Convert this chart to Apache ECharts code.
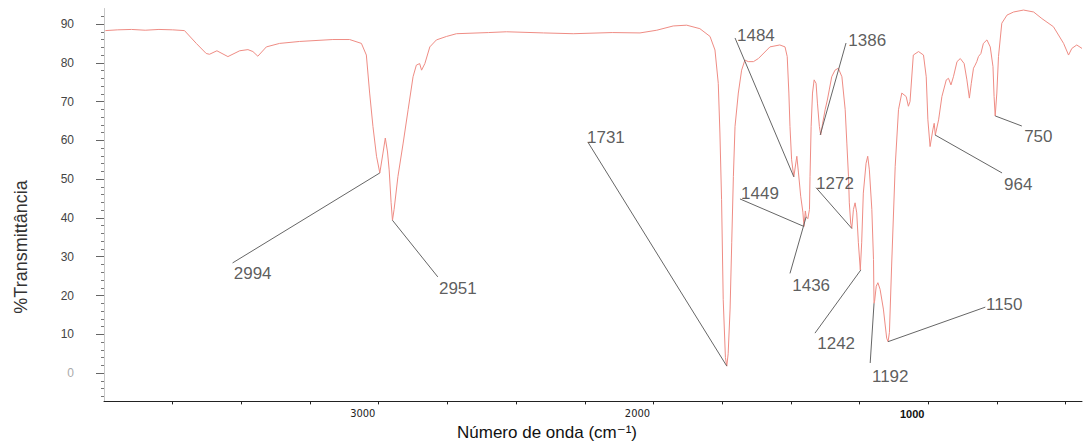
<!DOCTYPE html>
<html>
<head>
<meta charset="utf-8">
<script src="https://cdn.jsdelivr.net/npm/echarts@6/dist/echarts.min.js"></script>
<style>
html, body { margin: 0; padding: 0; background: #fff; }
#main { width: 1085px; height: 442px; }
</style>
</head>
<body>
<div id="main"></div>
<script>
// espectro IR (numero de onda em cm-1, % transmitancia)
var wavenumber = [3995, 3950, 3900, 3850, 3800, 3750, 3707, 3664, 3628, 3616, 3589, 3549, 3506, 3476, 3458, 3440, 3409, 3361, 3288, 3167,
    3106, 3063, 3045, 3033, 3021, 3008, 2996, 2985, 2976, 2968, 2962, 2955, 2950, 2944, 2930, 2911, 2893, 2875, 2863, 2851,
    2844, 2832, 2814, 2790, 2753, 2717, 2600, 2535, 2400, 2292, 2150, 2049, 1988, 1928, 1879, 1831, 1794, 1776, 1764, 1758,
    1752, 1746, 1738, 1733, 1728, 1721, 1715, 1709, 1703, 1691, 1679, 1667, 1655, 1636, 1618, 1576, 1540, 1521, 1513, 1507,
    1503, 1497, 1489, 1478, 1472, 1464, 1456, 1452, 1447, 1444, 1438, 1432, 1430, 1426, 1421, 1415, 1408, 1403, 1396, 1391,
    1384, 1375, 1367, 1360, 1351, 1339, 1327, 1314, 1302, 1296, 1290, 1287, 1282, 1278, 1272, 1266, 1260, 1254, 1247, 1242,
    1236, 1226, 1220, 1214, 1205, 1199, 1197, 1195, 1189, 1183, 1175, 1163, 1151, 1146, 1141, 1133, 1120, 1108, 1096, 1080,
    1072, 1066, 1054, 1035, 1017, 1007, 1001, 993, 983, 978, 974, 962, 950, 934, 926, 917, 908, 895, 883, 869,
    859, 850, 843, 835, 829, 823, 817, 808, 799, 786, 774, 764, 760, 756, 750, 744, 732, 713, 689, 653,
    616, 586, 544, 507, 489, 477, 459, 440];
var transmittance = [88.3, 88.5, 88.6, 88.4, 88.6, 88.5, 88.3, 85.0, 82.4, 82.2, 83.1, 81.6, 83.1, 83.4, 82.9, 81.7, 84.1, 85.0, 85.5, 86.0,
    86.0, 85.0, 82.0, 72.2, 63.6, 55.9, 51.6, 56.5, 60.6, 57.0, 52.4, 44.0, 39.4, 42.2, 50.7, 59.3, 67.9, 76.4, 79.4, 79.8,
    78.1, 79.8, 84.1, 85.9, 86.8, 87.5, 87.8, 88.0, 87.7, 87.5, 87.8, 87.7, 88.4, 89.5, 89.7, 88.8, 86.8, 83.3, 74.7, 61.9,
    44.7, 19.0, 4.0, 1.8, 5.0, 16.5, 33.6, 50.7, 63.6, 72.2, 78.1, 80.7, 80.3, 80.3, 81.1, 84.1, 84.6, 84.1, 81.6, 72.2,
    63.6, 55.0, 50.6, 55.9, 51.6, 45.6, 41.5, 37.8, 41.8, 40.3, 39.8, 42.2, 50.7, 63.6, 72.2, 75.6, 74.7, 69.6, 63.6, 61.4,
    64.4, 67.9, 70.4, 73.0, 76.4, 78.1, 78.6, 76.4, 67.9, 59.3, 50.7, 43.9, 38.7, 37.3, 42.2, 43.9, 41.3, 33.6, 26.6, 33.6,
    46.4, 54.1, 55.9, 52.4, 42.2, 29.3, 18.0, 18.5, 22.4, 23.3, 21.6, 16.5, 9.0, 8.1, 10.5, 27.6, 53.3, 67.9, 72.2, 71.3,
    68.8, 70.0, 82.0, 82.9, 82.0, 76.4, 65.3, 58.4, 62.7, 64.4, 61.4, 65.3, 71.3, 75.6, 76.0, 74.3, 76.4, 80.3, 81.1, 79.8,
    75.6, 70.9, 74.7, 78.6, 79.4, 80.3, 81.6, 82.4, 85.0, 85.9, 84.1, 79.0, 71.3, 66.3, 72.2, 81.6, 90.2, 92.3, 93.1, 93.6,
    93.1, 91.4, 89.3, 85.0, 82.0, 83.7, 84.6, 83.7];

// bandas marcadas
var peakNames = ['2994', '2951', '1731', '1484', '1386', '1449', '1436', '1272', '1242', '1192', '1150', '964', '750'];
var pointerFrom = [[2996, 51.6], [2950, 39.4], [1733, 1.8], [1489, 50.6], [1393, 61.4], [1452, 37.8], [1444, 40.3],
    [1278, 37.3], [1245, 26.6], [1197, 18.0], [1146, 8.1], [975, 61.4], [756, 66.3]];
var pointerTo = [[3532, 28.4], [2785, 24.8], [2239, 59.6], [1703, 86.4], [1299, 85.1], [1685, 44.9], [1503, 25.7],
    [1408, 47.8], [1412, 10.3], [1211, 2.6], [792, 17.0], [731, 51.6], [659, 63.7]];
var labelAt = [[3459, 25.8], [2712, 21.7], [2173, 60.8], [1627, 87.1], [1222, 85.8], [1612, 46.4], [1426, 22.7],
    [1339, 49.0], [1335, 7.5], [1138, -1.0], [723, 17.8], [672, 48.5], [599, 61.1]];

var xLabelValues = [3000, 2000, 1000];
var xTickValues = [3750, 3500, 3250, 3000, 2750, 2500, 2250, 2000, 1750, 1500, 1250, 1000, 750, 500];
var yLabelValues = [0, 10, 20, 30, 40, 50, 60, 70, 80, 90];
var yMinorValues = [-6, -4, -2, 2, 4, 6, 8, 12, 14, 16, 18, 22, 24, 26, 28, 32, 34, 36, 38, 42, 44, 46, 48,
    52, 54, 56, 58, 62, 64, 66, 68, 72, 74, 76, 78, 82, 84, 86, 88, 92];

var spectrum = [];
for (let i = 0; i < wavenumber.length; ++i) {
    spectrum.push([wavenumber[i], transmittance[i]]);
}
var pointers = [];
var labels = [];
for (let i = 0; i < peakNames.length; ++i) {
    pointers.push({ coords: [pointerFrom[i], pointerTo[i]] });
    labels.push({ name: peakNames[i], value: labelAt[i] });
}

var myChart = echarts.init(document.getElementById('main'), null, { renderer: 'svg' });
var option = {
    animation: false,
    backgroundColor: '#fff',
    grid: { left: 104, right: 3, top: 8.5, bottom: 40.6 },
    xAxis: {
        type: 'value',
        inverse: true,
        min: 440,
        max: 4000,
        splitLine: { show: false },
        axisLine: { show: true, onZero: false, lineStyle: { color: '#222', width: 1 } },
        axisTick: { show: true, customValues: xTickValues, length: 3, lineStyle: { color: '#222' } },
        axisLabel: {
            customValues: xLabelValues,
            margin: 7,
            fontSize: 11,
            fontFamily: 'Liberation Sans Narrow, DejaVu Sans Condensed, sans-serif',
            color: '#222',
            padding: [0, 32, 0, 0],
            formatter: function (v) {
                return v === 1000 ? '{b|' + v + '}' : '' + v;
            },
            rich: { b: { fontWeight: 'bold', fontSize: 11, fontFamily: 'Liberation Sans Narrow, sans-serif', color: '#111' } }
        }
    },
    yAxis: [
        {
            type: 'value',
            position: 'left',
            offset: 0,
            min: -7.3,
            max: 94,
            splitLine: { show: false },
            axisLine: { show: true, onZero: false, lineStyle: { color: '#c8c8c8', width: 1 } },
            axisTick: { show: true, customValues: yLabelValues, length: 8, lineStyle: { color: '#666' } },
            axisLabel: {
                customValues: yLabelValues,
                margin: 30,
                fontSize: 12,
                fontFamily: 'Liberation Sans, Arial, sans-serif',
                color: function (v) { return v == 0 ? '#aaa' : '#444'; }
            }
        },
        {
            type: 'value',
            position: 'left',
            offset: 0,
            min: -7.3,
            max: 94,
            splitLine: { show: false },
            axisLine: { show: false },
            axisTick: { show: true, customValues: yMinorValues, length: 3, lineStyle: { color: '#777' } },
            axisLabel: { show: false }
        }
    ],
    graphic: [
        {
            type: 'text',
            x: 21,
            y: 247,
            rotation: Math.PI / 2,
            style: {
                text: '%Transmittância',
                fontSize: 18,
                fontFamily: 'Liberation Sans, Arial, sans-serif',
                fill: '#333',
                textAlign: 'center',
                textVerticalAlign: 'middle'
            }
        },
        {
            type: 'text',
            x: 547,
            y: 432,
            style: {
                text: 'Número de onda (cm⁻¹)',
                fontSize: 17,
                fontFamily: 'Liberation Sans, DejaVu Sans, sans-serif',
                fill: '#111',
                textAlign: 'center',
                textVerticalAlign: 'middle'
            }
        }
    ],
    series: [
        {
            type: 'line',
            data: spectrum,
            showSymbol: false,
            symbol: 'none',
            clip: false,
            lineStyle: { color: '#ef8c84', width: 1 },
            z: 3
        },
        {
            type: 'lines',
            coordinateSystem: 'cartesian2d',
            data: pointers,
            lineStyle: { color: '#666', width: 1, opacity: 1 },
            z: 4
        },
        {
            type: 'scatter',
            data: labels,
            symbolSize: 0,
            clip: false,
            label: {
                show: true,
                position: 'inside',
                formatter: '{b}',
                fontSize: 17,
                fontFamily: 'Liberation Sans, Arial, sans-serif',
                color: '#333'
            },
            z: 5
        }
    ]
};
myChart.setOption(option);
</script>
</body>
</html>
